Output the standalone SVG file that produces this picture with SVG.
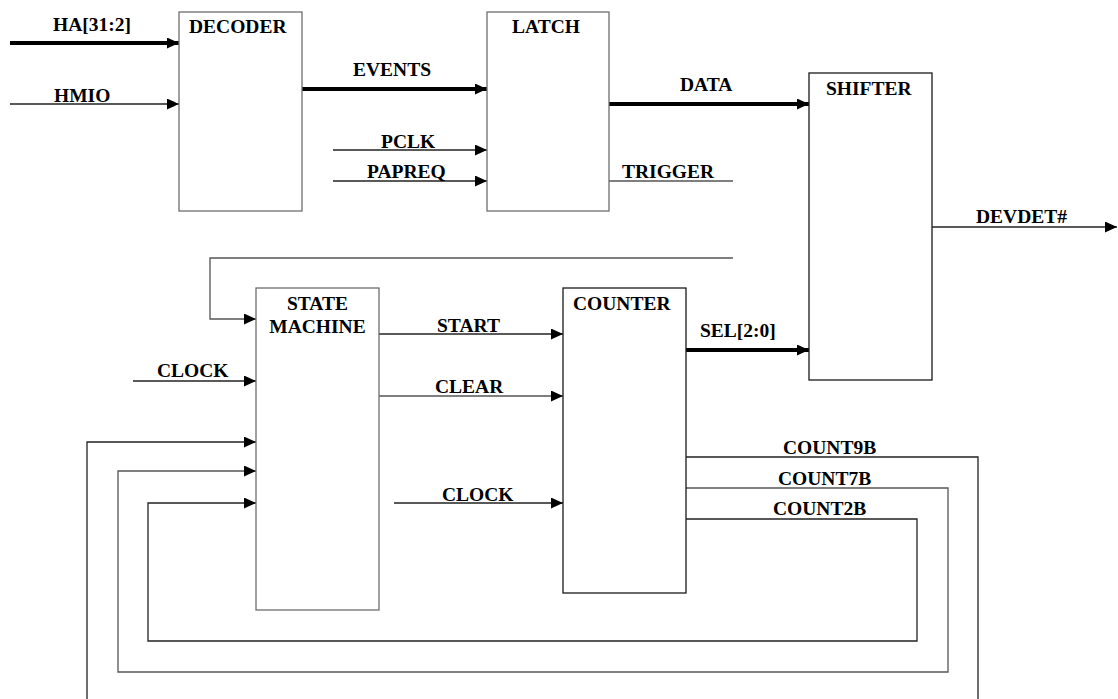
<svg xmlns="http://www.w3.org/2000/svg" width="1118" height="699" viewBox="0 0 1118 699">
<style>
.box{fill:#fff;stroke:#6e6e6e;stroke-width:1.3}
.boxd{fill:#fff;stroke:#1a1a1a;stroke-width:1.3}
.w{fill:none;stroke:#222;stroke-width:1.3}
.wg{fill:none;stroke:#555;stroke-width:1.3}
.bus{fill:none;stroke:#000;stroke-width:4}
text{font-family:"Liberation Serif","Times New Roman",serif;font-weight:bold;font-size:19.5px;fill:#000}
</style>
<defs>
<marker id="ah" markerUnits="userSpaceOnUse" viewBox="0 0 12 11" markerWidth="12" markerHeight="11" refX="12" refY="5.5" orient="auto">
<path d="M0,0 L12,5.5 L0,11 z" fill="#000"/>
</marker>
</defs>
<rect width="1118" height="699" fill="#fff"/>
<g id="connectors">
<line class="bus" x1="10" y1="43" x2="179" y2="43" marker-end="url(#ah)"/>
<line class="w" x1="10" y1="104" x2="179" y2="104" marker-end="url(#ah)"/>
<line class="bus" x1="302" y1="89" x2="487" y2="89" marker-end="url(#ah)"/>
<line class="w" x1="333" y1="150" x2="487" y2="150" marker-end="url(#ah)"/>
<line class="w" x1="333" y1="181" x2="487" y2="181" marker-end="url(#ah)"/>
<line class="bus" x1="609" y1="104" x2="809" y2="104" marker-end="url(#ah)"/>
<line class="wg" x1="609" y1="181" x2="733" y2="181"/>
<line class="w" x1="932" y1="227" x2="1117" y2="227" marker-end="url(#ah)"/>
<path class="wg" d="M733,258 H210 V319 H256" marker-end="url(#ah)"/>
<line class="w" x1="133" y1="381" x2="256" y2="381" marker-end="url(#ah)"/>
<line class="w" x1="379" y1="334" x2="563" y2="334" marker-end="url(#ah)"/>
<line class="wg" x1="379" y1="396" x2="563" y2="396" marker-end="url(#ah)"/>
<line class="w" x1="394" y1="503" x2="563" y2="503" marker-end="url(#ah)"/>
<line class="bus" x1="686" y1="350" x2="809" y2="350" marker-end="url(#ah)"/>
<path class="w" d="M686,457 H978 V712 H87 V442 H256" marker-end="url(#ah)"/>
<path class="wg" d="M686,488 H948 V672 H118 V471 H256" marker-end="url(#ah)"/>
<path class="w" d="M686,519 H917 V641 H148 V503 H256" marker-end="url(#ah)"/>
</g>
<g id="decoder">
<rect class="box" x="179" y="12" width="123" height="199"/>
<text x="189" y="33">DECODER</text>
</g>
<g id="latch">
<rect class="box" x="487" y="12" width="122" height="199"/>
<text x="512" y="33">LATCH</text>
</g>
<g id="shifter">
<rect class="boxd" x="809" y="73" width="123" height="307"/>
<text x="826" y="95">SHIFTER</text>
</g>
<g id="state-machine">
<rect class="box" x="256" y="288" width="123" height="322"/>
<text x="317.5" y="310" text-anchor="middle">STATE</text>
<text x="317.5" y="333" text-anchor="middle">MACHINE</text>
</g>
<g id="counter">
<rect class="boxd" x="563" y="288" width="123" height="305"/>
<text x="573" y="310">COUNTER</text>
</g>
<g id="labels">
<text x="53" y="31">HA[31:2]</text>
<text x="54" y="102">HMIO</text>
<text x="353" y="76">EVENTS</text>
<text x="381" y="148">PCLK</text>
<text x="367" y="178">PAPREQ</text>
<text x="680" y="91">DATA</text>
<text x="622" y="178">TRIGGER</text>
<text x="976" y="223">DEVDET#</text>
<text x="157" y="377">CLOCK</text>
<text x="437" y="332">START</text>
<text x="435" y="393">CLEAR</text>
<text x="442" y="501">CLOCK</text>
<text x="700" y="337">SEL[2:0]</text>
<text x="783" y="454">COUNT9B</text>
<text x="778" y="485">COUNT7B</text>
<text x="773" y="515">COUNT2B</text>
</g>
</svg>
